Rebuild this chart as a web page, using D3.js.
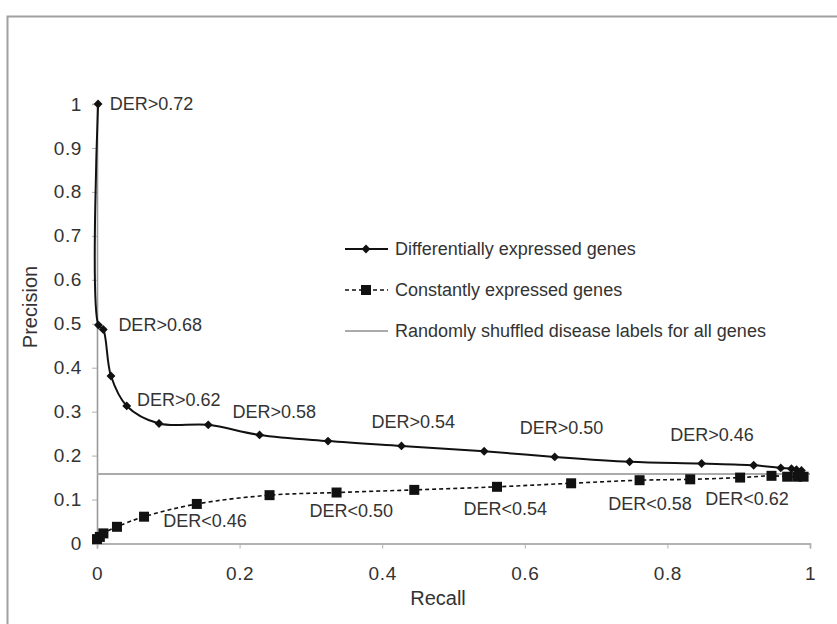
<!DOCTYPE html>
<html>
<head>
<meta charset="utf-8">
<script src="https://cdn.jsdelivr.net/npm/d3@7"></script>
<style>
  html, body { margin: 0; padding: 0; background: #fff; }
  svg text { font-family: "Liberation Sans", Arial, Helvetica, sans-serif; fill: #333; }
</style>
</head>
<body>
<svg id="chart" width="837" height="624"></svg>
<script>
// Precision/recall for genes ranked by differential-expression ratio (DER)
const diffRecall = [0.0015, 0.002, 0.0088, 0.0196, 0.0417, 0.087, 0.156, 0.228, 0.324, 0.427, 0.543, 0.642, 0.747, 0.848, 0.921, 0.959, 0.974, 0.981, 0.988];
const diffPrecision = [1.0, 0.497, 0.487, 0.381, 0.313, 0.273, 0.270, 0.247, 0.233, 0.222, 0.210, 0.197, 0.186, 0.182, 0.178, 0.172, 0.170, 0.168, 0.166];

const constRecall = [0.0, 0.004, 0.009, 0.028, 0.066, 0.140, 0.242, 0.336, 0.445, 0.561, 0.665, 0.761, 0.832, 0.902, 0.946, 0.968, 0.982, 0.991];
const constPrecision = [0.010, 0.015, 0.023, 0.038, 0.061, 0.090, 0.110, 0.116, 0.122, 0.129, 0.137, 0.144, 0.146, 0.150, 0.154, 0.152, 0.152, 0.152];

// Baseline precision with shuffled disease labels
const randomPrecision = 0.158;

const xTicks = [0, 0.2, 0.4, 0.6, 0.8, 1];
const yTicks = [0, 0.1, 0.2, 0.3, 0.4, 0.5, 0.6, 0.7, 0.8, 0.9, 1];

const diffLabels = ["DER>0.72", "DER>0.68", "DER>0.62", "DER>0.58", "DER>0.54", "DER>0.50", "DER>0.46"];
const constLabels = ["DER<0.46", "DER<0.50", "DER<0.54", "DER<0.58", "DER<0.62"];
const legendLabels = ["Differentially expressed genes", "Constantly expressed genes", "Randomly shuffled disease labels for all genes"];

const svg = d3.select("#chart");

// outer frame
svg.append("rect")
  .attr("x", 7.5).attr("y", 16.5)
  .attr("width", 900).attr("height", 700)
  .attr("fill", "none").attr("stroke", "#a0a0a0").attr("stroke-width", 2);

const x = d3.scaleLinear().domain([0, 1]).range([97, 810]);
const y = d3.scaleLinear().domain([0, 1]).range([543.5, 104]);

const fmt = d => d === 0 ? "0" : d === 1 ? "1" : d3.format(".1f")(d);

// axes
const gx = svg.append("g").attr("transform", `translate(0,${y(0)})`)
  .call(d3.axisBottom(x).tickValues(xTicks).tickFormat(fmt).tickSize(5).tickPadding(18));
const gy = svg.append("g").attr("transform", `translate(${x(0)},0)`)
  .call(d3.axisLeft(y).tickValues(yTicks).tickFormat(fmt).tickSize(5).tickPadding(10));
[gx, gy].forEach(g => {
  g.select(".domain").attr("stroke", "#9a9a9a").attr("stroke-width", 1.6);
  g.selectAll(".tick line").attr("stroke", "#b0b0b0").attr("stroke-width", 1);
  g.selectAll(".tick text").attr("font-size", 19).style("fill", "#333")
    .style("letter-spacing", "0.6px")
    .attr("font-family", "'Liberation Sans', Arial, sans-serif");
});

svg.append("text").attr("x", 438).attr("y", 605)
  .attr("text-anchor", "middle").attr("font-size", 20).text("Recall");
svg.append("text").attr("transform", `translate(37,307) rotate(-90)`)
  .attr("text-anchor", "middle").attr("font-size", 20).text("Precision");

// random baseline
svg.append("line")
  .attr("x1", x(0)).attr("x2", x(1))
  .attr("y1", y(randomPrecision)).attr("y2", y(randomPrecision))
  .attr("stroke", "#aaa").attr("stroke-width", 2);

const diffData = diffRecall.map((r, i) => [r, diffPrecision[i]]);
const constData = constRecall.map((r, i) => [r, constPrecision[i]]);

const line = d3.line().x(d => x(d[0])).y(d => y(d[1])).curve(d3.curveCatmullRom.alpha(0.5));

svg.append("path").datum(constData).attr("d", line)
  .attr("fill", "none").attr("stroke", "#111").attr("stroke-width", 1.6)
  .attr("stroke-dasharray", "4,3");
svg.append("path").datum(diffData).attr("d", line)
  .attr("fill", "none").attr("stroke", "#111").attr("stroke-width", 2);

const diamond = d3.symbol().type(d3.symbolDiamond2).size(50);
const square = d3.symbol().type(d3.symbolSquare).size(100);

svg.append("g").selectAll("path").data(diffData).join("path")
  .attr("d", diamond).attr("fill", "#111")
  .attr("transform", d => `translate(${x(d[0])},${y(d[1])})`);
svg.append("g").selectAll("path").data(constData).join("path")
  .attr("d", square).attr("fill", "#111")
  .attr("transform", d => `translate(${x(d[0])},${y(d[1])})`);

// threshold annotations, placed in data space
const diffLabelPos = [[0.018, 1.0], [0.030, 0.497], [0.056, 0.327], [0.190, 0.300], [0.385, 0.277], [0.593, 0.263], [0.804, 0.247]];
const constLabelPos = [[0.093, 0.053], [0.298, 0.074], [0.514, 0.079], [0.717, 0.090], [0.853, 0.103]];

svg.append("g").selectAll("text").data(diffLabels).join("text")
  .attr("x", (d, i) => x(diffLabelPos[i][0]))
  .attr("y", (d, i) => y(diffLabelPos[i][1]))
  .attr("dy", "0.35em").attr("font-size", 18).text(d => d);
svg.append("g").selectAll("text").data(constLabels).join("text")
  .attr("x", (d, i) => x(constLabelPos[i][0]))
  .attr("y", (d, i) => y(constLabelPos[i][1]))
  .attr("dy", "0.35em").attr("font-size", 18).text(d => d);

// legend
const legend = svg.append("g").attr("transform", "translate(345,249)");
legendLabels.forEach((t, i) => {
  const g = legend.append("g").attr("transform", `translate(0,${i * 41})`);
  const ln = g.append("line").attr("x1", 0).attr("x2", 43).attr("y1", 0).attr("y2", 0);
  if (i === 0) {
    ln.attr("stroke", "#111").attr("stroke-width", 2);
    g.append("path").attr("d", diamond).attr("fill", "#111").attr("transform", "translate(21,0)");
  } else if (i === 1) {
    ln.attr("stroke", "#111").attr("stroke-width", 1.6).attr("stroke-dasharray", "4,3");
    g.append("path").attr("d", square).attr("fill", "#111").attr("transform", "translate(21,0)");
  } else {
    ln.attr("stroke", "#aaa").attr("stroke-width", 2);
  }
  g.append("text").attr("x", 50).attr("dy", "0.35em").attr("font-size", 18).text(t);
});
</script>
</body>
</html>
